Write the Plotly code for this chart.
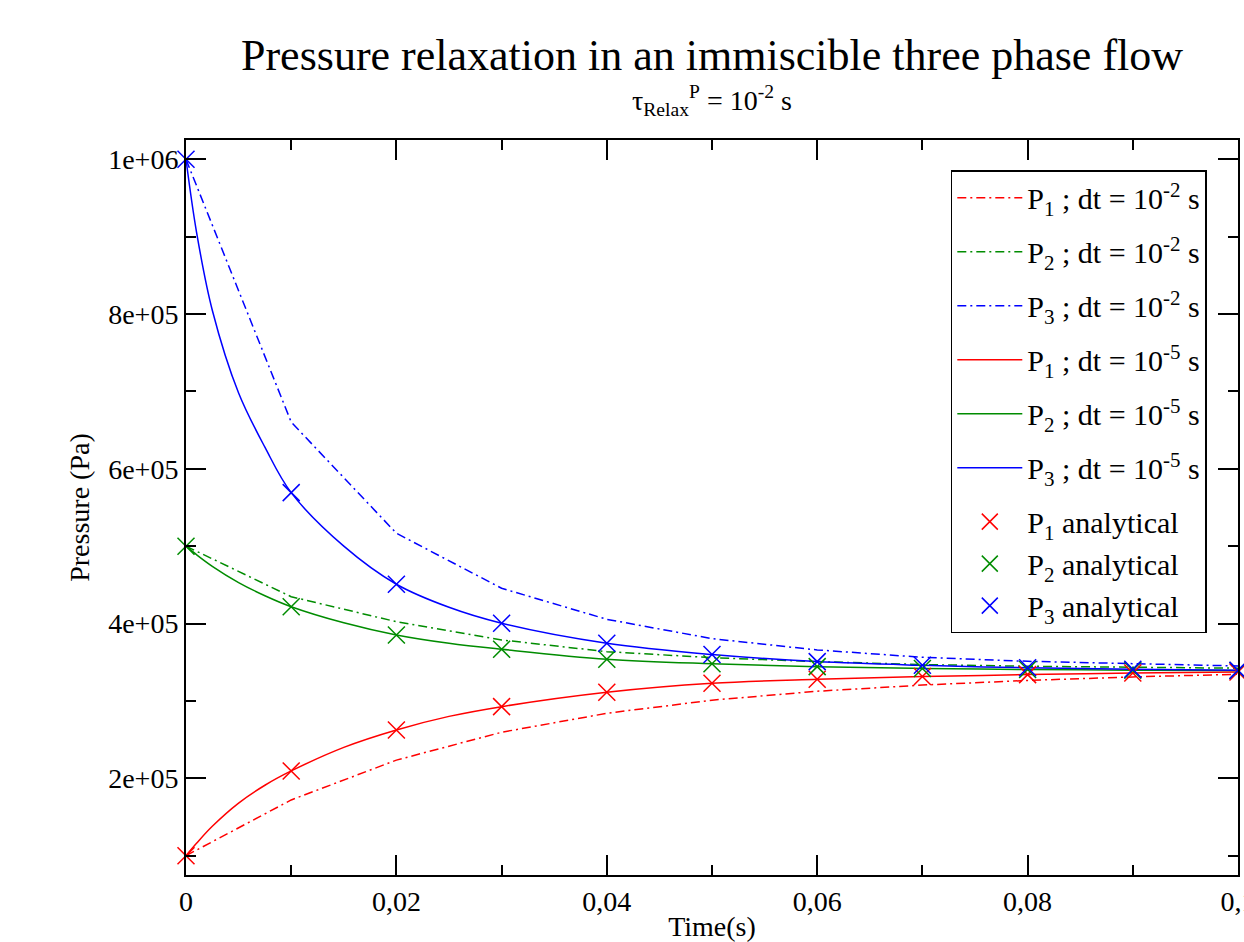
import plotly.graph_objects as go

# time grid of the coarse run (dt = 1e-2) and of the analytical solution
t_coarse = [0, 0.01, 0.02, 0.03, 0.04, 0.05, 0.06, 0.07, 0.08, 0.09, 0.1]
# time grid (dt = 1e-5)
t_fine = [0, 0.001, 0.0025, 0.005, 0.0075, 0.01, 0.015, 0.02, 0.025, 0.03,
          0.04, 0.05, 0.06, 0.07, 0.08, 0.09, 0.1]

# dt = 1e-2
p1_coarse = [100000, 172000, 223500, 259500, 284000, 301000, 312500, 320500, 326500, 331000, 334500]
p2_coarse = [500000, 434700, 402400, 378800, 363700, 355900, 350800, 347000, 344800, 343300, 342300]
p3_coarse = [1000000, 660400, 516700, 445600, 405500, 380500, 365900, 356400, 351200, 347800, 345200]

# dt = 1e-5
p1_fine = [100000, 116000, 138000, 168000, 191000, 209500, 240000, 262500, 280000, 292600,
           311200, 322800, 328000, 331500, 334000, 336000, 337500]
p2_fine = [500000, 489000, 474000, 453000, 436000, 421800, 401000, 385300, 374500, 366800,
           353900, 348000, 344300, 342000, 340600, 339800, 339200]
p3_fine = [1000000, 906000, 805000, 698000, 628000, 569200, 500000, 450800, 421000, 400400,
           374500, 360000, 350800, 346000, 342800, 341000, 339500]

# analytical
p1_exact = [100000, 209500, 262500, 292600, 311200, 322800, 328000, 331500, 334000, 336000, 337500]
p2_exact = [500000, 421800, 385300, 366800, 353900, 348000, 344300, 342000, 340600, 339800, 339200]
p3_exact = [1000000, 569200, 450800, 400400, 374500, 360000, 350800, 346000, 342800, 341000, 339500]

x_ticks = [0, 0.02, 0.04, 0.06, 0.08, 0.1]
x_ticktext = ["0", "0,02", "0,04", "0,06", "0,08", "0,1"]
y_ticks = [200000, 400000, 600000, 800000, 1000000]
y_ticktext = ["2e+05", "4e+05", "6e+05", "8e+05", "1e+06"]

RED, GREEN, BLUE = "#ff0000", "#008c00", "#0000ff"
FONT = "Liberation Serif, Times New Roman, serif"
DASHDOT = "9px,4px,2px,4px"

fig = go.Figure()

for i, (y, col) in enumerate([(p1_coarse, RED), (p2_coarse, GREEN), (p3_coarse, BLUE)], 1):
    fig.add_trace(go.Scatter(
        x=t_coarse, y=y, mode="lines", line=dict(color=col, width=1.5, dash=DASHDOT),
        legendgroup=f"c{i}", name=f"P<sub>{i}</sub> ; dt = 10<sup>-2</sup> s"))

for i, (y, col) in enumerate([(p1_fine, RED), (p2_fine, GREEN), (p3_fine, BLUE)], 1):
    fig.add_trace(go.Scatter(
        x=t_fine, y=y, mode="lines", line=dict(color=col, width=1.5, shape="spline"),
        legendgroup=f"f{i}", name=f"P<sub>{i}</sub> ; dt = 10<sup>-5</sup> s"))

for i, (y, col) in enumerate([(p1_exact, RED), (p2_exact, GREEN), (p3_exact, BLUE)], 1):
    fig.add_trace(go.Scatter(
        x=t_coarse, y=y, mode="markers", cliponaxis=False,
        marker=dict(symbol="x-thin", size=17, color=col, line=dict(color=col, width=1.5)),
        legendgroup="exact", name=f"P<sub>{i}</sub> analytical"))

axis_common = dict(
    showline=True, linecolor="black", linewidth=2, mirror="ticks",
    ticks="inside", ticklen=20, tickwidth=1.5, tickcolor="black",
    showgrid=False, zeroline=False, automargin=False, ticklabeloverflow="allow",
    tickfont=dict(family=FONT, size=28, color="black"),
)

fig.update_xaxes(
    range=[0, 0.1], tickvals=x_ticks, ticktext=x_ticktext,
    minor=dict(ticks="inside", ticklen=10, tickwidth=1.5, tickcolor="black", tick0=0, dtick=0.01),
    title=dict(text="Time(s)", font=dict(family=FONT, size=28, color="black"), standoff=20),
    **axis_common)
fig.update_yaxes(
    range=[75000, 1025000], tickvals=y_ticks, ticktext=y_ticktext,
    minor=dict(ticks="inside", ticklen=10, tickwidth=1.5, tickcolor="black", tick0=0, dtick=100000),
    title=dict(text="Pressure (Pa)", font=dict(family=FONT, size=28, color="black"), standoff=10),
    **axis_common)

fig.add_annotation(text="Pressure relaxation in an immiscible three phase flow",
                   xref="paper", yref="paper", x=0.5, y=1.0, yanchor="middle", yshift=85,
                   showarrow=False, font=dict(family=FONT, size=44, color="black"))
fig.add_annotation(text="τ<sub>Relax</sub><sup>P</sup> = 10<sup>-2</sup> s",
                   xref="paper", yref="paper", x=0.5, y=1.0, yanchor="middle", yshift=40,
                   showarrow=False, font=dict(family=FONT, size=28, color="black"))

fig.update_layout(
    width=1244, height=942,
    margin=dict(l=186, r=6, t=140, b=67),
    paper_bgcolor="white", plot_bgcolor="white",
    font=dict(family=FONT, size=28, color="black"),
    legend=dict(x=0.727, y=0.959, xanchor="left", yanchor="top",
                bgcolor="white", bordercolor="black", borderwidth=1.5,
                itemwidth=65, tracegroupgap=12,
                font=dict(family=FONT, size=30, color="black")),
    showlegend=True,
)

fig.write_html("out.html", config={"displayModeBar": False},
               post_script="document.body.style.margin = '0px';")
